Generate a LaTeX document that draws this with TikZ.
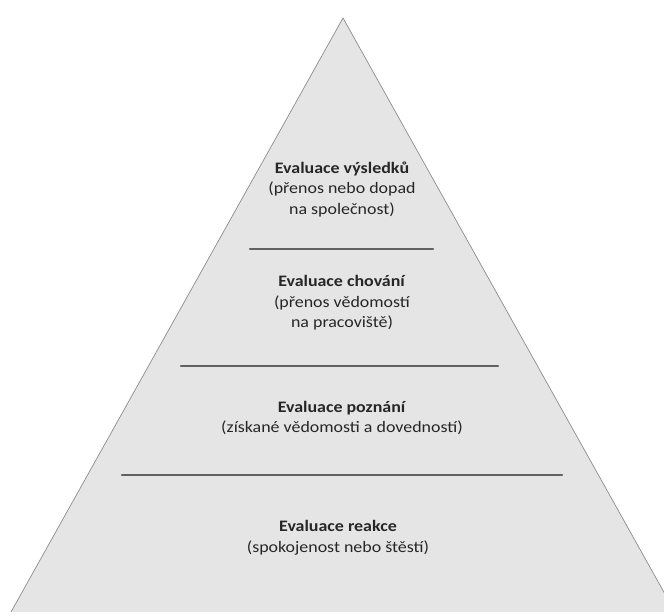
\documentclass[tikz,border=0pt]{standalone}
\usepackage{fontspec}
\setmainfont{Carlito}[FakeStretch=1.12]
\tikzset{
  levelbox/.style={align=center, text=black!85, font=\fontsize{16}{20.5}\selectfont},
  divider/.style={line width=2.4pt, black!62, line cap=round},
}
\begin{document}
\begin{tikzpicture}[x=1pt,y=-1pt]
  \useasboundingbox (0,0) rectangle (664,615);

  \coordinate (apex) at (343,18);
  \coordinate (baseL) at (11,612);
  \coordinate (baseR) at (675,612);

  \fill[black!10] (apex) -- (baseL) -- (baseR) -- cycle; % pyramid body
  \draw[black!45, line width=0.7pt] (baseL) -- (apex) -- (baseR);

  % dividers between the levels
  \coordinate (d1l) at (250,249);
  \coordinate (d1r) at (433,249);
  \coordinate (d2l) at (181,366);
  \coordinate (d2r) at (498,366);
  \coordinate (d3l) at (122,475);
  \coordinate (d3r) at (562,475);
  \draw[divider] (d1l) -- (d1r);
  \draw[divider] (d2l) -- (d2r);
  \draw[divider] (d3l) -- (d3r);

  \node[levelbox] (results) at (342,189) {\textbf{Evaluace výsledků}\\(přenos nebo dopad\\na společnost)};
  \node[levelbox] (behaviour) at (342,303) {\textbf{Evaluace chování}\\(přenos vědomostí\\na pracoviště)};
  \node[levelbox] (learning) at (342,418) {\textbf{Evaluace poznání}\\(získané vědomosti a dovedností)};
  \node[levelbox] (reaction) at (338,538) {\textbf{Evaluace reakce}\\(spokojenost nebo štěstí)};
\end{tikzpicture}
\end{document}
